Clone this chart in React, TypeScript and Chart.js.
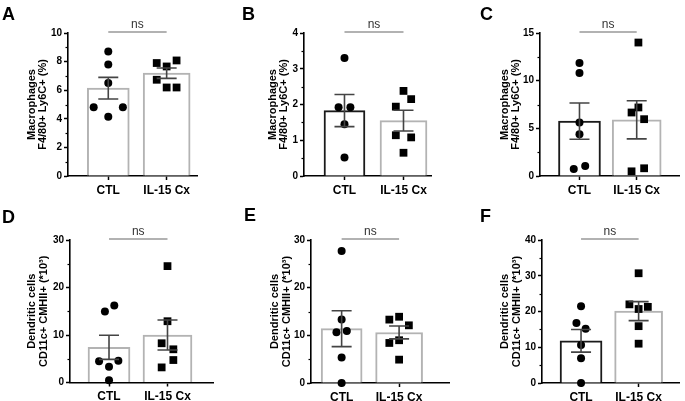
import React, { useEffect, useRef } from 'react';
import { Chart, registerables } from 'chart.js';
Chart.register(...registerables);

const categories = ['CTL', 'IL-15 Cx'];

// Panel A – Macrophages F4/80+ Ly6C+ (%)
const A_ctl = [8.7, 7.8, 6.5, 4.8, 4.8, 4.15];
const A_ctlJit = [0, 0, 0, -0.25, 0.25, 0];
const A_il = [8.08, 7.9, 7.66, 6.73, 6.19, 6.19];
const A_ilJit = [0.17, -0.17, 0, -0.17, 0, 0.17];
const A_mean = [6.14, 7.19];
const A_sem = [0.76, 0.36];

// Panel B
const B_ctl = [3.3, 1.92, 1.92, 1.45, 0.52];
const B_ctlJit = [0, -0.1, 0.1, 0, 0];
const B_il = [2.38, 2.15, 1.94, 1.14, 1.08, 0.65];
const B_ilJit = [0, 0.13, -0.13, -0.13, 0.13, 0];
const B_mean = [1.83, 1.55];
const B_sem = [0.45, 0.29];

// Panel C
const C_ctl = [11.85, 10.8, 5.6, 4.38, 1.05, 0.74];
const C_ctlJit = [0, 0, 0, 0, 0.1, -0.1];
const C_il = [14.0, 7.19, 6.66, 5.96, 0.81, 0.49];
const C_ilJit = [0.03, 0.03, -0.09, 0.13, 0.13, -0.09];
const C_mean = [5.75, 5.89];
const C_sem = [1.9, 2.0];

// Panel D – Dendritic cells CD11c+ CMHII+ (*10^3)
const D_ctl = [16.23, 14.96, 4.59, 4.45, 3.32, 0.49];
const D_ctlJit = [0.09, -0.07, 0.16, -0.17, 0, 0];
const D_il = [24.5, 12.9, 8.26, 6.99, 4.73, 3.18];
const D_ilJit = [0, 0, -0.1, 0.1, 0.1, -0.1];
const D_mean = [7.41, 10.0];
const D_sem = [2.54, 3.17];

// Panel E
const E_ctl = [27.7, 13.3, 10.93, 10.65, 5.33, 0];
const E_ctlJit = [0, 0, 0.09, -0.09, 0, 0];
const E_il = [13.9, 13.3, 12.1, 8.97, 8.4, 4.9];
const E_ilJit = [0, -0.17, 0.17, 0, -0.17, 0];
const E_mean = [11.4, 10.6];
const E_sem = [3.77, 1.35];

// Panel F
const F_ctl = [21.5, 16.8, 15.2, 10.6, 6.9, 0];
const F_ctlJit = [0, -0.08, 0.08, 0, 0, 0];
const F_il = [30.7, 22.0, 21.3, 20.7, 15.9, 11.0];
const F_ilJit = [0, -0.16, 0.16, 0, 0, 0];
const F_mean = [11.8, 20.1];
const F_sem = [3.15, 2.65];

const yMaxes = [10, 4, 15, 30, 30, 40];
const ySteps = [2, 1, 5, 10, 10, 10];
const macroTitle = ['Macrophages', 'F4/80+ Ly6C+ (%)'];
const dcTitle = ['Dendritic cells', 'CD11c+ CMHII+ (*10³)'];
const sigLabel = 'ns';

const FONT = "'Liberation Sans', Arial, sans-serif";
const BLACK = '#1a1a1a';
const GREY = '#b3b3b3';

const panels = [
  { letter: 'A', ctl: A_ctl, ctlJit: A_ctlJit, il: A_il, ilJit: A_ilJit, mean: A_mean, sem: A_sem, yMax: yMaxes[0], step: ySteps[0], title: macroTitle,
    box: { left: 0, top: 0, w: 228, h: 200 }, area: { left: 68, top: 33, right: 197, bottom: 176 }, xr: [-0.69, 1.52], barW: [42, 47], borders: [GREY, GREY], titleX: 32, lh: 1.0, letterPos: [2, 5] },
  { letter: 'B', ctl: B_ctl, ctlJit: B_ctlJit, il: B_il, ilJit: B_ilJit, mean: B_mean, sem: B_sem, yMax: yMaxes[1], step: ySteps[1], title: macroTitle,
    box: { left: 228, top: 0, w: 227, h: 200 }, area: { left: 304, top: 33, right: 431, bottom: 176 }, xr: [-0.686, 1.466], barW: [41, 47], borders: [BLACK, GREY], titleX: 273, lh: 1.0, letterPos: [242, 5] },
  { letter: 'C', ctl: C_ctl, ctlJit: C_ctlJit, il: C_il, ilJit: C_ilJit, mean: C_mean, sem: C_sem, yMax: yMaxes[2], step: ySteps[2], title: macroTitle,
    box: { left: 455, top: 0, w: 230, h: 200 }, area: { left: 540, top: 33, right: 685, bottom: 176 }, xr: [-0.69, 1.748], barW: [42, 49], borders: [BLACK, GREY], titleX: 505, lh: 1.0, letterPos: [480, 5] },
  { letter: 'D', ctl: D_ctl, ctlJit: D_ctlJit, il: D_il, ilJit: D_ilJit, mean: D_mean, sem: D_sem, yMax: yMaxes[3], step: ySteps[3], title: dcTitle,
    box: { left: 0, top: 200, w: 228, h: 201 }, area: { left: 70, top: 240, right: 213, bottom: 382.5 }, xr: [-0.667, 1.778], barW: [42, 49], borders: [GREY, GREY], titleX: 32, lh: 1.1, letterPos: [2, 208] },
  { letter: 'E', ctl: E_ctl, ctlJit: E_ctlJit, il: E_il, ilJit: E_ilJit, mean: E_mean, sem: E_sem, yMax: yMaxes[4], step: ySteps[4], title: dcTitle,
    box: { left: 228, top: 200, w: 227, h: 201 }, area: { left: 311, top: 240, right: 458, bottom: 383 }, xr: [-0.533, 1.877], barW: [41, 47], borders: [GREY, GREY], titleX: 275, lh: 1.1, letterPos: [244, 206] },
  { letter: 'F', ctl: F_ctl, ctlJit: F_ctlJit, il: F_il, ilJit: F_ilJit, mean: F_mean, sem: F_sem, yMax: yMaxes[5], step: ySteps[5], title: dcTitle,
    box: { left: 455, top: 200, w: 230, h: 201 }, area: { left: 542, top: 240, right: 683, bottom: 383 }, xr: [-0.678, 1.71], barW: [42, 48], borders: [BLACK, GREY], titleX: 505, lh: 1.1, letterPos: [480, 207] },
];

const extrasPlugin = {
  id: 'panelExtras',
  afterDatasetsDraw(chart: any, _args: any, opts: any) {
    const p = opts.panel;
    if (!p) return;
    const { ctx, chartArea } = chart;
    const xs = chart.scales.x;
    const ys = chart.scales.y;
    ctx.save();
    // minor y ticks
    ctx.strokeStyle = '#000';
    ctx.lineWidth = 1.2;
    for (let v = p.step / 2; v < p.yMax; v += p.step) {
      const y = Math.round(ys.getPixelForValue(v)) + 0.5;
      ctx.beginPath();
      ctx.moveTo(chartArea.left - 2.5, y);
      ctx.lineTo(chartArea.left, y);
      ctx.stroke();
    }
    // error bars (mean ± SEM)
    ctx.strokeStyle = '#444';
    ctx.lineWidth = 1.6;
    for (let i = 0; i < 2; i++) {
      const x = xs.getPixelForValue(i);
      const yT = ys.getPixelForValue(p.mean[i] + p.sem[i]);
      const yB = ys.getPixelForValue(Math.max(0, p.mean[i] - p.sem[i]));
      ctx.beginPath();
      ctx.moveTo(x, yT);
      ctx.lineTo(x, yB);
      ctx.moveTo(x - 10, yT);
      ctx.lineTo(x + 10, yT);
      ctx.moveTo(x - 10, yB);
      ctx.lineTo(x + 10, yB);
      ctx.stroke();
    }
    // significance line
    const x0 = xs.getPixelForValue(0);
    const x1 = xs.getPixelForValue(1);
    const yl = chartArea.top - 1;
    ctx.strokeStyle = '#666';
    ctx.lineWidth = 1.2;
    ctx.beginPath();
    ctx.moveTo(x0, yl);
    ctx.lineTo(x1, yl);
    ctx.stroke();
    ctx.fillStyle = '#333';
    ctx.font = `12px ${FONT}`;
    ctx.textAlign = 'center';
    ctx.textBaseline = 'middle';
    ctx.fillText(sigLabel, (x0 + x1) / 2, yl - 7);
    ctx.restore();
  },
};

function Panel({ p }: { p: any }) {
  const ref = useRef<HTMLCanvasElement>(null);
  useEffect(() => {
    if (!ref.current) return;
    const yW = p.area.left - p.box.left;
    const padTop = p.area.top - p.box.top;
    const padRight = p.box.left + p.box.w - p.area.right;
    const xH = p.box.top + p.box.h - p.area.bottom;
    const titleLine = 11 * p.lh;
    const chart = new Chart(ref.current, {
      type: 'bar',
      data: {
        datasets: [
          { type: 'bar', data: [{ x: 0, y: p.mean[0] }], backgroundColor: '#ffffff', borderColor: p.borders[0], borderWidth: 2, barThickness: p.barW[0], grouped: false, order: 3 } as any,
          { type: 'bar', data: [{ x: 1, y: p.mean[1] }], backgroundColor: '#ffffff', borderColor: p.borders[1], borderWidth: 2, barThickness: p.barW[1], grouped: false, order: 3 } as any,
          { type: 'scatter', data: p.ctl.map((v: number, i: number) => ({ x: p.ctlJit[i], y: v })), pointStyle: 'circle', pointRadius: 4, backgroundColor: '#000', borderColor: '#000', borderWidth: 0, clip: false, order: 1 } as any,
          { type: 'scatter', data: p.il.map((v: number, i: number) => ({ x: 1 + p.ilJit[i], y: v })), pointStyle: 'rect', pointRadius: 5.5, backgroundColor: '#000', borderColor: '#000', borderWidth: 0, clip: false, order: 1 } as any,
        ],
      },
      options: {
        responsive: false,
        animation: false,
        devicePixelRatio: 1,
        events: [],
        layout: { padding: { top: padTop, right: padRight, left: 0, bottom: 0 } },
        plugins: {
          legend: { display: false },
          tooltip: { enabled: false },
          panelExtras: { panel: p },
        } as any,
        scales: {
          x: {
            type: 'linear',
            min: p.xr[0],
            max: p.xr[1],
            offset: false,
            z: 1,
            afterBuildTicks: (s: any) => { s.ticks = [{ value: 0 }, { value: 1 }]; },
            afterFit: (s: any) => { s.height = xH; },
            ticks: {
              callback: (_v: any, i: number) => categories[i],
              font: { family: FONT, size: 12, weight: 'bold' },
              color: '#000',
              padding: 3,
              maxRotation: 0,
              autoSkip: false,
            },
            grid: { offset: false, drawOnChartArea: false, drawTicks: true, tickLength: 4, tickColor: '#000', tickWidth: 1.5 },
            border: { display: true, color: '#000', width: 1.6 },
          },
          y: {
            min: 0,
            max: p.yMax,
            z: 1,
            afterFit: (s: any) => { s.width = yW; },
            ticks: {
              stepSize: p.step,
              font: { family: FONT, size: 10, weight: 'bold' },
              color: '#000',
              padding: 2,
            },
            grid: { drawOnChartArea: false, drawTicks: true, tickLength: 4, tickColor: '#000', tickWidth: 1.5 },
            border: { display: true, color: '#000', width: 1.6 },
            title: {
              display: true,
              text: p.title,
              color: '#000',
              font: { family: FONT, size: 11, weight: 'bold', lineHeight: p.lh },
              padding: { top: p.titleX - p.box.left - titleLine / 2, bottom: 0 },
            },
          },
        } as any,
      },
      plugins: [extrasPlugin],
    });
    return () => chart.destroy();
  }, [p]);
  return (
    <canvas
      ref={ref}
      width={p.box.w}
      height={p.box.h}
      style={{ position: 'absolute', left: p.box.left, top: p.box.top, width: p.box.w, height: p.box.h }}
    />
  );
}

export default function App() {
  return (
    <div style={{ position: 'absolute', left: 0, top: 0, width: 685, height: 401, background: '#fff', overflow: 'hidden' }}>
      {panels.map((p) => (
        <Panel key={p.letter} p={p} />
      ))}
      {panels.map((p) => (
        <div
          key={'l' + p.letter}
          style={{ position: 'absolute', left: p.letterPos[0], top: p.letterPos[1], font: `bold 18px ${FONT}`, lineHeight: '18px', color: '#000' }}
        >
          {p.letter}
        </div>
      ))}
    </div>
  );
}
